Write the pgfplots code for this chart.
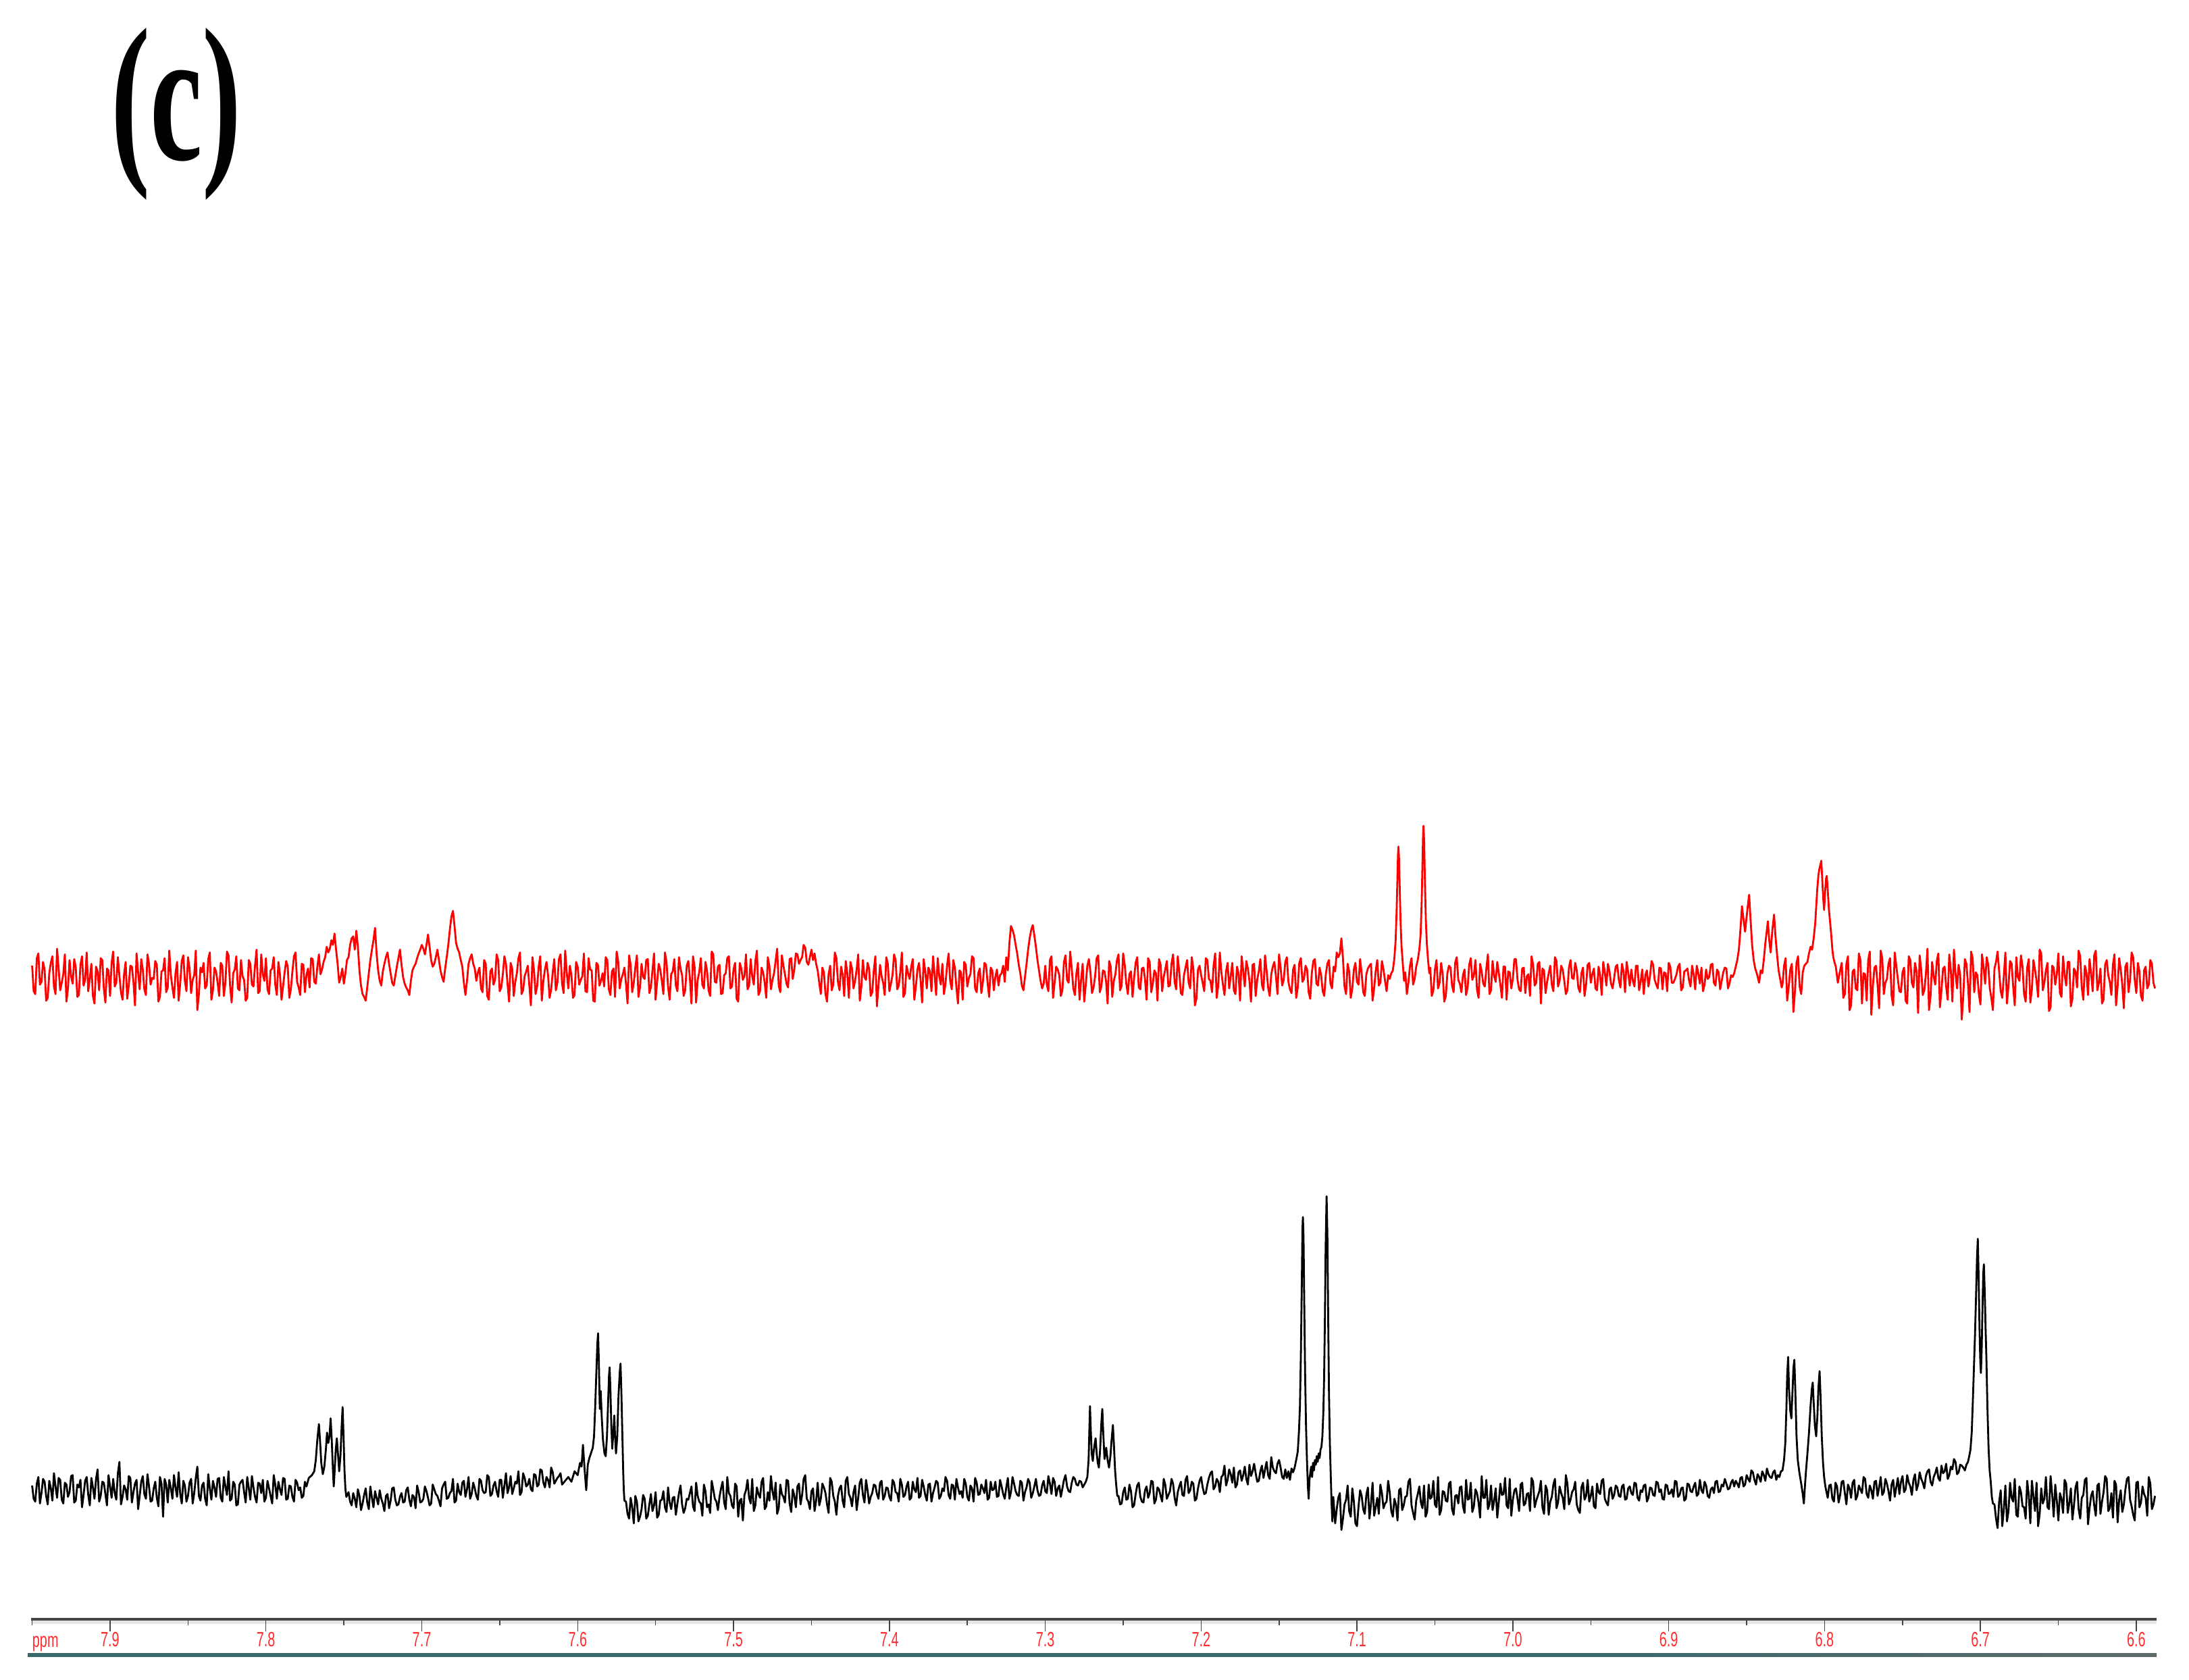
\documentclass[border=0pt]{standalone}
\usepackage{graphicx}
\usepackage{pgfplots}
\pgfplotsset{compat=1.18}
\usepackage{fontspec}
\newfontfamily\labelfont{Liberation Serif}
\newfontfamily\rulerfont{Liberation Sans}
\definecolor{tickred}{RGB}{255,45,45}
\definecolor{rulergray}{RGB}{68,68,68}
\definecolor{bandgray}{RGB}{230,230,230}
\definecolor{tealA}{RGB}{56,104,108}
\definecolor{tealB}{RGB}{96,108,108}
\begin{document}
\begin{tikzpicture}
\useasboundingbox (0,0) rectangle (324.1pt,248.8pt);
% ---------------- red spectrum ----------------
\begin{axis}[at={(4.6pt,90.1pt)}, anchor=south west, scale only axis,
  width=314.7pt, height=49pt, xmin=6.587, xmax=7.9507, x dir=reverse,
  ymin=-100, ymax=250, axis lines=none, clip=false]
\addplot[red, line width=0.28pt, line join=round] coordinates {
(7.950,12)(7.949,-15)(7.948,-18)(7.947,20)(7.946,25)(7.945,-8)(7.944,-5)(7.943,16)(7.942,8)(7.941,-25)(7.940,-22)(7.939,4)(7.938,15)(7.937,22)(7.936,-10)(7.935,-18)(7.934,30)(7.933,9)(7.932,-14)(7.931,-6)(7.930,3)(7.929,24)(7.928,-26)(7.927,-12)(7.926,18)(7.925,1)(7.924,-7)(7.923,19)(7.922,10)(7.921,-21)(7.920,-19)(7.919,13)(7.918,22)(7.917,-9)(7.916,-3)(7.915,26)(7.914,-15)(7.913,-2)(7.912,14)(7.911,-20)
(7.910,-28)(7.909,11)(7.908,6)(7.907,-14)(7.906,20)(7.905,18)(7.904,-12)(7.903,-27)(7.902,9)(7.901,7)(7.900,-20)(7.899,15)(7.898,27)(7.897,-10)(7.896,-6)(7.895,21)(7.894,1)(7.893,-16)(7.892,-24)(7.891,3)(7.890,16)(7.889,-23)(7.888,-9)(7.887,12)(7.886,11)(7.885,-5)(7.884,-30)(7.883,25)(7.882,5)(7.881,-13)(7.880,19)(7.879,8)(7.878,-13)(7.877,-19)(7.876,24)(7.875,14)(7.874,-8)(7.873,-1)(7.872,-2)(7.871,17)
(7.870,13)(7.869,-26)(7.868,-21)(7.867,6)(7.866,7)(7.865,20)(7.864,-16)(7.863,-11)(7.862,28)(7.861,2)(7.860,-11)(7.859,-22)(7.858,4)(7.857,16)(7.856,-25)(7.855,-7)(7.854,17)(7.853,23)(7.852,-4)(7.851,-15)(7.850,21)(7.849,9)(7.848,-17)(7.847,-3)(7.846,2)(7.845,28)(7.844,-35)(7.843,-18)(7.842,10)(7.841,5)(7.840,15)(7.839,-12)(7.838,-9)(7.837,19)(7.836,26)(7.835,-24)(7.834,-14)(7.833,10)(7.832,6)(7.831,-6)
(7.830,-20)(7.829,15)(7.828,12)(7.827,-20)(7.826,-6)(7.825,27)(7.824,23)(7.823,-9)(7.822,-27)(7.821,4)(7.820,8)(7.819,22)(7.818,-12)(7.817,-14)(7.816,18)(7.815,1)(7.814,-3)(7.813,-25)(7.812,-22)(7.811,18)(7.810,14)(7.809,-8)(7.808,-10)(7.807,12)(7.806,29)(7.805,-17)(7.804,-15)(7.803,24)(7.802,3)(7.801,-4)(7.800,20)(7.799,-13)(7.798,-18)(7.797,7)(7.796,9)(7.795,21)(7.794,-8)(7.793,-19)(7.792,16)(7.791,3)
(7.790,-24)(7.789,-10)(7.788,5)(7.787,17)(7.786,11)(7.785,-22)(7.784,-13)(7.783,6)(7.782,22)(7.781,26)(7.780,-5)(7.779,-11)(7.778,-19)(7.777,14)(7.776,13)(7.775,-16)(7.774,2)(7.773,9)(7.772,-11)(7.771,20)(7.770,19)(7.769,-5)(7.768,-7)(7.767,11)(7.766,24)(7.765,3)(7.764,8)(7.763,16)(7.762,21)(7.761,32)
(7.760,26)(7.759,30)(7.758,39)(7.757,34)(7.756,46)(7.755,29)(7.754,14)(7.753,-6)(7.752,0)(7.751,9)(7.750,-7)(7.749,4)(7.748,18)(7.747,21)(7.746,34)(7.745,41)(7.744,43)(7.743,29)(7.742,49)(7.741,32)(7.740,7)(7.739,-9)(7.738,-18)(7.737,-21)(7.736,-25)(7.735,-11)(7.734,4)(7.733,18)(7.732,29)(7.731,39)
(7.730,52)(7.729,25)(7.728,7)(7.727,-4)(7.726,-9)(7.725,6)(7.724,14)(7.723,21)(7.722,26)(7.721,14)(7.720,4)(7.719,-6)(7.718,-9)(7.717,1)(7.716,11)(7.715,20)(7.714,29)(7.713,13)(7.712,0)(7.711,-7)(7.710,-11)(7.709,-14)(7.708,-19)(7.707,-4)(7.706,7)(7.705,11)(7.704,14)(7.703,20)(7.702,25)(7.701,29)
(7.700,34)(7.699,30)(7.698,24)(7.697,34)(7.696,45)(7.695,32)(7.694,18)(7.693,11)(7.692,14)(7.691,21)(7.690,29)(7.689,18)(7.688,7)(7.687,0)(7.686,-5)(7.685,9)(7.684,21)(7.683,34)(7.682,50)(7.681,64)(7.680,70)(7.679,54)(7.678,36)(7.677,30)(7.676,26)(7.675,18)(7.674,11)(7.673,-6)(7.672,-19)(7.671,-4)
(7.670,14)(7.669,20)(7.668,24)(7.667,14)(7.666,9)(7.665,-4)(7.664,5)
(7.663,10)(7.662,-12)(7.661,-16)(7.660,18)(7.659,14)(7.658,-20)(7.657,-24)(7.656,6)(7.655,9)(7.654,-8)(7.653,-3)(7.652,24)(7.651,18)(7.650,-15)(7.649,-11)(7.648,3)(7.647,22)(7.646,14)(7.645,-7)(7.644,-26)(7.643,15)(7.642,9)(7.641,-20)(7.640,-5)(7.639,4)(7.638,20)(7.637,26)(7.636,-18)(7.635,-14)(7.634,1)(7.633,6)(7.632,12)(7.631,-9)(7.630,-30)(7.629,21)(7.628,7)(7.627,-18)(7.626,-10)(7.625,11)(7.624,22)
(7.623,-25)(7.622,-4)(7.621,8)(7.620,16)(7.619,2)(7.618,-22)(7.617,-13)(7.616,5)(7.615,19)(7.614,-14)(7.613,-6)(7.612,19)(7.611,24)(7.610,-7)(7.609,-17)(7.608,28)(7.607,5)(7.606,-12)(7.605,12)(7.604,2)(7.603,-22)(7.602,-19)(7.601,16)(7.600,11)(7.599,-8)(7.598,-3)(7.597,1)(7.596,25)(7.595,-15)(7.594,-16)(7.593,20)(7.592,8)(7.591,7)(7.590,-25)(7.589,-26)(7.588,15)(7.587,13)(7.586,-9)(7.585,-4)(7.584,4)
(7.583,-10)(7.582,21)(7.581,18)(7.580,-13)(7.579,-19)(7.578,6)(7.577,9)(7.576,-21)(7.575,27)(7.574,17)(7.573,-12)(7.572,-2)(7.571,3)(7.570,10)(7.569,-7)(7.568,-28)(7.567,23)(7.566,13)(7.565,-16)(7.564,-6)(7.563,10)(7.562,23)(7.561,-21)(7.560,-11)(7.559,14)(7.558,0)(7.557,-2)(7.556,18)(7.555,19)(7.554,-17)(7.553,-11)(7.552,7)(7.551,25)(7.550,-24)(7.549,-5)(7.548,14)(7.547,8)(7.546,-4)(7.545,-18)(7.544,26)
(7.543,16)(7.542,-10)(7.541,-24)(7.540,3)(7.539,6)(7.538,19)(7.537,-9)(7.536,-15)(7.535,21)(7.534,9)(7.533,2)(7.532,-20)(7.531,-14)(7.530,12)(7.529,17)(7.528,-1)(7.527,-28)(7.526,22)(7.525,11)(7.524,-27)(7.523,-3)(7.522,5)(7.521,20)(7.520,-8)(7.519,-12)(7.518,16)(7.517,7)(7.516,-14)(7.515,-20)(7.514,27)(7.513,24)(7.512,-5)(7.511,-6)(7.510,11)(7.509,13)(7.508,-18)(7.507,-17)(7.506,2)(7.505,4)(7.504,20)
(7.503,22)(7.502,-12)(7.501,-10)(7.500,8)(7.499,15)(7.498,-23)(7.497,-26)(7.496,15)(7.495,9)(7.494,-3)(7.493,1)(7.492,24)(7.491,-13)(7.490,-9)(7.489,19)(7.488,1)(7.487,-8)(7.486,17)(7.485,28)(7.484,-19)(7.483,-15)(7.482,10)(7.481,5)(7.480,-6)(7.479,-22)(7.478,21)(7.477,12)(7.476,-13)(7.475,-3)(7.474,4)(7.473,17)(7.472,30)(7.471,-9)(7.470,-16)(7.469,23)(7.468,12)(7.467,3)(7.466,-7)(7.465,-11)(7.464,19)
(7.463,20)(7.462,-2)(7.461,8)(7.460,25)(7.459,24)(7.458,14)(7.457,18)(7.456,21)(7.455,34)(7.454,31)(7.453,16)(7.452,13)(7.451,21)(7.450,29)(7.449,18)(7.448,25)(7.447,14)(7.446,7)(7.445,-6)
(7.444,-18)(7.443,10)(7.442,5)(7.441,-18)(7.440,-26)(7.439,3)(7.438,12)(7.437,-14)(7.436,-8)(7.435,26)(7.434,20)(7.433,-5)(7.432,-14)(7.431,11)(7.430,3)(7.429,-20)(7.428,17)(7.427,4)(7.426,-22)(7.425,16)(7.424,9)(7.423,-12)(7.422,-4)(7.421,8)(7.420,24)(7.419,-25)(7.418,-11)(7.417,18)(7.416,0)(7.415,-3)(7.414,15)(7.413,9)(7.412,-20)(7.411,-16)(7.410,7)(7.409,22)(7.408,-31)(7.407,-9)(7.406,13)(7.405,1)
(7.404,-6)(7.403,-19)(7.402,21)(7.401,14)(7.400,-15)(7.399,-7)(7.398,2)(7.397,24)(7.396,18)(7.395,-13)(7.394,-9)(7.393,5)(7.392,26)(7.391,-21)(7.390,-17)(7.389,12)(7.388,4)(7.387,-2)(7.386,11)(7.385,19)(7.384,-24)(7.383,-10)(7.382,8)(7.381,15)(7.380,-3)(7.379,-27)(7.378,19)(7.377,6)(7.376,-12)(7.375,10)(7.374,6)(7.373,-15)(7.372,22)(7.371,3)(7.370,-19)(7.369,20)(7.368,1)(7.367,-8)(7.366,14)(7.365,-18)
(7.364,-7)(7.363,12)(7.362,25)(7.361,-4)(7.360,-13)(7.359,18)(7.358,10)(7.357,-11)(7.356,-28)(7.355,7)(7.354,5)(7.353,-24)(7.352,16)(7.351,13)(7.350,-10)(7.349,-1)(7.348,3)(7.347,22)(7.346,20)(7.345,-12)(7.344,-16)(7.343,4)(7.342,9)(7.341,-17)(7.340,-5)(7.339,15)(7.338,13)(7.337,-6)(7.336,-21)(7.335,10)(7.334,7)(7.333,-14)(7.332,0)(7.331,8)(7.330,-9)(7.329,2)(7.328,4)(7.327,12)
(7.326,-5)(7.325,21)(7.324,7)(7.323,36)(7.322,54)(7.321,50)(7.320,44)(7.319,34)(7.318,25)(7.317,13)(7.316,4)(7.315,-9)(7.314,-14)(7.313,0)(7.312,14)(7.311,29)(7.310,41)(7.309,50)(7.308,55)(7.307,44)(7.306,32)(7.305,18)(7.304,7)(7.303,-4)(7.302,-12)(7.301,-7)
(7.300,12)(7.299,-8)(7.298,-15)(7.297,18)(7.296,22)(7.295,-22)(7.294,-6)(7.293,11)(7.292,8)(7.291,2)(7.290,-20)(7.289,-14)(7.288,16)(7.287,23)(7.286,-3)(7.285,-6)(7.284,27)(7.283,9)(7.282,-12)(7.281,-19)(7.280,4)(7.279,15)(7.278,-24)(7.277,-3)(7.276,14)(7.275,-26)(7.274,-8)(7.273,12)(7.272,19)(7.271,5)(7.270,-17)(7.269,-11)(7.268,1)(7.267,20)(7.266,23)(7.265,-16)(7.264,-10)(7.263,7)(7.262,6)(7.261,-4)
(7.260,-28)(7.259,17)(7.258,11)(7.257,-21)(7.256,-4)(7.255,3)(7.254,18)(7.253,24)(7.252,-14)(7.251,-9)(7.250,25)(7.249,13)(7.248,-7)(7.247,-18)(7.246,3)(7.245,6)(7.244,-21)(7.243,-1)(7.242,15)(7.241,21)(7.240,-11)(7.239,-13)(7.238,9)(7.237,10)(7.236,-2)(7.235,-24)(7.234,20)(7.233,16)(7.232,-16)(7.231,-7)(7.230,7)(7.229,4)(7.228,-25)(7.227,19)(7.226,13)(7.225,-15)(7.224,0)(7.223,8)(7.222,17)(7.221,-10)
(7.220,-9)(7.219,14)(7.218,24)(7.217,-5)(7.216,-13)(7.215,22)(7.214,5)(7.213,-17)(7.212,-19)(7.211,2)(7.210,10)(7.209,18)(7.208,-6)(7.207,-12)(7.206,21)(7.205,9)(7.204,-30)(7.203,-23)(7.202,8)(7.201,12)(7.200,2)(7.199,-6)(7.198,-15)(7.197,20)(7.196,18)(7.195,-2)(7.194,-4)(7.193,-16)(7.192,12)(7.191,25)(7.190,-22)(7.189,-9)(7.188,26)(7.187,5)(7.186,-8)(7.185,-19)(7.184,6)(7.183,15)(7.182,-12)(7.181,1)
(7.180,15)(7.179,-14)(7.178,-18)(7.177,11)(7.176,4)(7.175,-25)(7.174,22)(7.173,7)(7.172,-10)(7.171,17)(7.170,9)(7.169,-4)(7.168,-26)(7.167,13)(7.166,14)(7.165,-20)(7.164,-3)(7.163,6)(7.162,19)(7.161,-8)(7.160,-14)(7.159,23)(7.158,7)(7.157,-11)(7.156,-20)(7.155,3)(7.154,11)(7.153,16)(7.152,1)(7.151,-18)(7.150,24)(7.149,10)(7.148,-9)(7.147,-3)(7.146,16)(7.145,21)(7.144,-5)(7.143,-13)(7.142,-17)(7.141,8)
(7.140,13)(7.139,-22)(7.138,-11)(7.137,15)(7.136,20)(7.135,-5)(7.134,-2)(7.133,12)(7.132,8)(7.131,-16)(7.130,-23)(7.129,4)(7.128,17)(7.127,19)(7.126,-7)(7.125,-9)(7.124,10)(7.123,2)(7.122,-15)(7.121,-20)(7.120,3)(7.119,14)(7.118,18)(7.117,-7)(7.116,-12)(7.115,11)(7.114,6)(7.113,26)(7.112,21)(7.111,25)(7.110,41)
(7.109,20)(7.108,-10)(7.107,-18)(7.106,14)(7.105,6)(7.104,-22)(7.103,-12)(7.102,8)(7.101,15)(7.100,-5)(7.099,-8)(7.098,19)(7.097,4)(7.096,-16)(7.095,-20)(7.094,3)(7.093,9)(7.092,12)(7.091,14)(7.090,-25)(7.089,-12)(7.088,6)(7.087,18)(7.086,-9)(7.085,-6)(7.084,17)(7.083,8)(7.082,-4)(7.081,-15)(7.080,2)(7.079,-2)(7.078,4)
(7.0770,7)(7.0760,20)(7.0752,39)(7.0746,68)(7.0741,101)(7.0737,129)(7.0734,138)(7.0730,125)(7.0725,89)(7.0720,57)(7.0714,32)(7.0706,14)(7.0698,-4)
(7.069,5)(7.068,-18)(7.067,-6)(7.066,12)(7.065,20)(7.064,-8)(7.063,-2)
(7.0620,11)(7.0610,18)(7.0600,29)(7.0592,44)(7.0585,79)(7.0580,118)(7.0576,150)(7.0573,160)(7.0569,143)(7.0564,100)(7.0558,59)(7.0552,36)(7.0544,18)(7.0536,4)
(7.053,10)(7.052,-20)(7.051,-14)(7.050,8)(7.049,18)(7.048,-12)(7.047,-6)(7.046,15)(7.045,3)(7.044,-26)(7.043,-20)(7.042,4)(7.041,12)(7.040,10)(7.039,-9)(7.038,-16)(7.037,15)(7.036,21)(7.035,-3)(7.034,-7)(7.033,-16)(7.032,2)(7.031,8)(7.030,-19)(7.029,-11)(7.028,13)(7.027,20)(7.026,-3)(7.025,2)(7.024,18)(7.023,-13)(7.022,-22)(7.021,14)(7.020,6)(7.019,-7)(7.018,-10)(7.017,9)(7.016,24)(7.015,-18)(7.014,-14)
(7.013,17)(7.012,1)(7.011,-5)(7.010,16)(7.009,4)(7.008,-8)(7.007,-22)(7.006,11)(7.005,11)(7.004,-24)(7.003,6)(7.002,5)(7.001,-12)(7.000,-2)(6.999,19)(6.998,19)(6.997,-3)(6.996,-13)(6.995,-15)(6.994,9)(6.993,10)(6.992,-17)(6.991,1)(6.990,3)(6.989,-20)(6.988,22)(6.987,13)(6.986,-9)(6.985,-6)(6.984,14)(6.983,16)(6.982,-28)(6.981,9)(6.980,7)(6.979,-17)(6.978,-5)(6.977,4)(6.976,12)(6.975,-8)(6.974,-15)
(6.973,21)(6.972,17)(6.971,-10)(6.970,-4)(6.969,12)(6.968,8)(6.967,-4)(6.966,-18)(6.965,-14)(6.964,10)(6.963,18)(6.962,-1)(6.961,-2)(6.960,15)(6.959,7)(6.958,-11)(6.957,-16)(6.956,4)(6.955,10)(6.954,-20)(6.953,-8)(6.952,13)(6.951,15)(6.950,-6)(6.949,3)(6.948,9)(6.947,-12)(6.946,-14)(6.945,11)(6.944,2)(6.943,-19)(6.942,16)(6.941,5)(6.940,-9)(6.939,14)(6.938,6)(6.937,-7)(6.936,-12)(6.935,-1)(6.934,11)
(6.933,13)(6.932,-3)(6.931,-11)(6.930,14)(6.929,6)(6.928,-16)(6.927,16)(6.926,5)(6.925,-9)(6.924,8)(6.923,-4)(6.922,-10)(6.921,12)(6.920,12)(6.919,-14)(6.918,-5)(6.917,8)(6.916,-18)(6.915,2)(6.914,7)(6.913,-10)(6.912,1)(6.911,17)(6.910,13)(6.909,-3)(6.908,-8)(6.907,-12)(6.906,10)(6.905,9)(6.904,-13)(6.903,5)(6.902,4)(6.901,-15)(6.900,15)(6.899,11)(6.898,-6)(6.897,-6)(6.896,-2)(6.895,3)(6.894,11)
(6.893,14)(6.892,-14)(6.891,-11)(6.890,6)(6.889,7)(6.888,9)(6.887,-3)(6.886,-10)(6.885,12)(6.884,3)(6.883,-13)(6.882,12)(6.881,4)(6.880,-7)(6.879,10)(6.878,-15)(6.877,-8)(6.876,8)(6.875,-2)(6.874,0)(6.873,13)(6.872,14)(6.871,-6)(6.870,-9)(6.869,8)(6.868,5)(6.867,-13)(6.866,-4)(6.865,5)(6.864,10)(6.863,9)(6.862,-12)(6.861,-7)(6.860,2)(6.859,0)
(6.8580,4)(6.8570,11)(6.8560,18)(6.8550,29)(6.8540,50)(6.8530,75)(6.8520,61)(6.8510,48)(6.8500,64)(6.8490,79)(6.8484,87)(6.8475,61)(6.8465,34)(6.8455,18)(6.8445,9)(6.8435,4)(6.8420,-6)(6.8410,7)(6.8400,4)
(6.8390,18)(6.8380,36)(6.8370,50)(6.8364,59)(6.8355,39)(6.8346,26)(6.8335,50)(6.8324,66)(6.8315,43)(6.8305,24)(6.8295,7)(6.8285,-2)(6.8275,-11)
(6.827,-8)(6.826,12)(6.825,20)(6.824,-25)(6.823,-10)(6.822,8)(6.821,14)(6.820,-37)(6.819,-15)(6.818,15)(6.817,22)(6.816,-10)(6.815,-18)(6.814,5)(6.813,12)
(6.8120,14)(6.8110,16)(6.8100,25)(6.8090,32)(6.8080,29)(6.8070,41)(6.8060,57)(6.8052,79)(6.8047,93)(6.8040,107)(6.8034,114)(6.8028,118)(6.8021,123)(6.8014,100)(6.8008,82)(6.8003,71)
(6.7997,89)(6.7991,104)(6.7986,107)(6.7980,93)(6.7972,71)(6.7964,57)(6.7957,44)(6.7950,29)(6.7944,21)(6.7937,16)(6.7928,11)(6.7915,-6)(6.7900,7)
(6.789,15)(6.788,-22)(6.787,-18)(6.786,14)(6.785,22)(6.784,-35)(6.783,-30)(6.782,6)(6.781,8)(6.780,-12)(6.779,-14)(6.778,25)(6.777,18)(6.776,-28)(6.775,4)(6.774,3)(6.773,-25)(6.772,18)(6.771,27)(6.770,-40)(6.769,-9)(6.768,10)(6.767,12)(6.766,-8)(6.765,-33)(6.764,28)(6.763,20)(6.762,-18)(6.761,-6)(6.760,-2)(6.759,14)(6.758,20)(6.757,-20)(6.756,-30)(6.755,26)(6.754,12)(6.753,-2)(6.752,-15)(6.751,-16)(6.750,5)
(6.749,10)(6.748,-25)(6.747,-28)(6.746,22)(6.745,18)(6.744,-6)(6.743,-11)(6.742,15)(6.741,6)(6.740,-38)(6.739,23)(6.738,8)(6.737,-19)(6.736,-14)(6.735,3)(6.734,30)(6.733,-35)(6.732,-20)(6.731,16)(6.730,1)(6.729,-8)(6.728,17)(6.727,25)(6.726,-32)(6.725,-14)(6.724,9)(6.723,11)(6.722,-10)(6.721,-24)(6.720,24)(6.719,7)(6.718,-26)(6.717,29)(6.716,4)(6.715,-12)(6.714,13)(6.713,2)(6.712,-45)(6.711,-20)(6.710,19)
(6.709,14)(6.708,-7)(6.707,-37)(6.706,27)(6.705,20)(6.704,-16)(6.703,5)(6.702,2)(6.701,-18)(6.700,-29)(6.699,24)(6.698,11)(6.697,-7)(6.696,21)(6.695,13)(6.694,-12)(6.693,-22)(6.692,-35)(6.691,9)(6.690,16)(6.689,27)(6.688,6)(6.687,-15)(6.686,-22)(6.685,1)(6.684,26)(6.683,-28)(6.682,-9)(6.681,17)(6.680,14)(6.679,-10)(6.678,-30)(6.677,21)(6.676,0)(6.675,-4)(6.674,23)(6.673,11)(6.672,-18)(6.671,-26)(6.670,10)
(6.669,19)(6.668,-27)(6.667,-13)(6.666,18)(6.665,8)(6.664,-4)(6.663,-21)(6.662,29)(6.661,25)(6.660,-14)(6.659,-6)(6.658,7)(6.657,15)(6.656,-36)(6.655,-32)(6.654,12)(6.653,10)(6.652,-8)(6.651,3)(6.650,25)(6.649,-17)(6.648,-21)(6.647,22)(6.646,3)(6.645,-9)(6.644,16)(6.643,16)(6.642,-31)(6.641,-23)(6.640,9)(6.639,6)(6.638,-11)(6.637,28)(6.636,22)(6.635,-11)(6.634,-24)(6.633,12)(6.632,5)(6.631,-19)(6.630,19)
(6.629,4)(6.628,-15)(6.627,23)(6.626,28)(6.625,-14)(6.624,-6)(6.623,9)(6.622,-28)(6.621,-24)(6.620,13)(6.619,18)(6.618,2)(6.617,-5)(6.616,-19)(6.615,13)(6.614,24)(6.613,-30)(6.612,-10)(6.611,20)(6.610,8)(6.609,-8)(6.608,-33)(6.607,11)(6.606,15)(6.605,-16)(6.604,-3)(6.603,26)(6.602,21)(6.601,-3)(6.600,-17)(6.599,15)(6.598,6)(6.597,-20)(6.596,-25)(6.595,7)(6.594,11)(6.593,-12)(6.592,-8)(6.591,18)(6.590,14)(6.589,-6)(6.588,-12)
};
\end{axis}
% ---------------- black spectrum + ppm ruler ----------------
\begin{axis}[at={(4.6pt,9pt)}, anchor=south west, scale only axis,
  width=314.7pt, height=70pt, xmin=6.587, xmax=7.9507, x dir=reverse,
  ymin=-136.43, ymax=363.57, clip=false, axis on top,
  axis x line=bottom, axis y line=none,
  x axis line style={-, draw=rulergray, line width=0.45pt},
  xtick={6.6,6.7,6.8,6.9,7.0,7.1,7.2,7.3,7.4,7.5,7.6,7.7,7.8,7.9},
  minor xtick={6.65,6.75,6.85,6.95,7.05,7.15,7.25,7.35,7.45,7.55,7.65,7.75,7.85,7.95},
  tick align=outside, major tick length=1.8pt, minor tick length=0.9pt,
  tick style={draw=rulergray, line width=0.15pt},
  xticklabel={\scalebox{0.65}[1]{\pgfmathprintnumber[fixed,fixed zerofill,precision=1,assume math mode=true]{\tick}}},
  xticklabel style={font=\rulerfont\fontsize{3.05}{3.6}\selectfont, text=tickred, anchor=base, inner sep=0pt, yshift=-2.3pt},
  ytick=\empty]
\fill[bandgray] ([yshift=-0.22pt]rel axis cs:0,0) rectangle ([yshift=-0.72pt]rel axis cs:1,0);
\addplot[black, line width=0.28pt, line join=round] coordinates {
(7.950,5)(7.949,-9)(7.948,-12)(7.947,7)(7.946,14)(7.945,-14)(7.944,-3)(7.943,12)(7.942,9)(7.941,-6)(7.940,-15)(7.939,10)(7.938,2)(7.937,-11)(7.936,18)(7.935,4)(7.934,-8)(7.933,13)(7.932,11)(7.931,-10)(7.930,-14)(7.929,8)(7.928,6)(7.927,-7)(7.926,-2)(7.925,15)(7.924,16)(7.923,-13)(7.922,-11)(7.921,6)(7.920,3)(7.919,11)(7.918,-18)(7.917,-5)(7.916,10)(7.915,14)(7.914,-5)(7.913,-16)(7.912,13)(7.911,3)
(7.910,-9)(7.909,12)(7.908,22)(7.907,-12)(7.906,-6)(7.905,9)(7.904,8)(7.903,-4)(7.902,-16)(7.901,16)(7.900,4)(7.899,-8)(7.898,12)(7.897,-3)(7.896,-10)(7.895,18)(7.894,30)(7.893,-15)(7.892,-7)(7.891,5)(7.890,1)(7.889,-10)(7.888,15)(7.887,13)(7.886,-13)(7.885,-2)(7.884,7)(7.883,11)(7.882,-20)(7.881,-6)(7.880,9)(7.879,15)(7.878,-4)(7.877,-9)(7.876,17)(7.875,4)(7.874,-12)(7.873,-11)(7.872,2)(7.871,9)
(7.870,-8)(7.869,-17)(7.868,14)(7.867,7)(7.866,-28)(7.865,12)(7.864,6)(7.863,-13)(7.862,11)(7.861,2)(7.860,-9)(7.859,16)(7.858,3)(7.857,-7)(7.856,19)(7.855,-4)(7.854,-14)(7.853,10)(7.852,5)(7.851,-12)(7.850,-6)(7.849,8)(7.848,12)(7.847,-14)(7.846,-3)(7.845,13)(7.844,25)(7.843,-6)(7.842,-11)(7.841,5)(7.840,8)(7.839,-9)(7.838,-16)(7.837,17)(7.836,2)(7.835,-10)(7.834,10)(7.833,3)(7.832,-7)(7.831,12)
(7.830,13)(7.829,-8)(7.828,-12)(7.827,14)(7.826,4)(7.825,-5)(7.824,20)(7.823,-11)(7.822,-9)(7.821,9)(7.820,6)(7.819,-16)(7.818,-15)(7.817,6)(7.816,9)(7.815,11)(7.814,-2)(7.813,-13)(7.812,14)(7.811,2)(7.810,-10)(7.809,15)(7.808,3)(7.807,-7)(7.806,-13)(7.805,8)(7.804,7)(7.803,-3)(7.802,11)(7.801,-12)(7.800,-8)(7.799,10)(7.798,2)(7.797,-6)(7.796,-14)(7.795,16)(7.794,6)(7.793,-9)(7.792,9)(7.791,1)
(7.790,-5)(7.789,13)(7.788,12)(7.787,-10)(7.786,-9)(7.785,5)(7.784,4)(7.783,-7)(7.782,-12)(7.781,11)(7.780,8)(7.779,0)(7.778,3)(7.777,-8)(7.776,-6)(7.775,9)
(7.7740,4)(7.7725,13)(7.7705,16)(7.7690,20)(7.7680,32)(7.7670,54)(7.7660,70)(7.7652,50)(7.7645,29)(7.7635,17)(7.7625,25)(7.7615,44)(7.7608,61)(7.7600,50)(7.7592,57)(7.7585,76)(7.7578,54)(7.7570,21)
(7.7565,4)(7.7560,18)(7.7552,43)(7.7545,55)(7.7538,39)(7.7530,20)(7.7522,36)(7.7514,68)(7.7508,88)(7.7502,57)(7.7496,21)(7.7490,1)(7.7484,-7)
(7.747,-2)(7.746,-12)(7.745,-16)(7.744,-3)(7.743,-9)(7.742,-18)(7.741,1)(7.740,-6)(7.739,-21)(7.738,-14)(7.737,-5)(7.736,2)(7.735,-13)(7.734,-20)(7.733,4)(7.732,-8)(7.731,-18)(7.730,-1)(7.729,-8)(7.728,-15)(7.727,0)(7.726,-9)(7.725,-14)(7.724,-22)(7.723,-6)(7.722,-4)(7.721,-19)(7.720,-11)(7.719,2)(7.718,3)(7.717,-10)(7.716,-16)(7.715,-15)(7.714,-7)(7.713,-3)(7.712,-13)(7.711,-12)(7.710,0)(7.709,3)(7.708,-10)
(7.707,-17)(7.706,-5)(7.705,-7)(7.704,-19)(7.703,5)(7.702,-2)(7.701,-13)(7.700,-12)(7.699,-9)(7.698,4)(7.697,-1)(7.696,-8)(7.695,-16)(7.694,-14)(7.693,6)(7.692,1)(7.691,-4)(7.690,-6)(7.689,-11)(7.688,-17)(7.687,2)(7.686,6)(7.685,9)(7.684,-9)(7.683,-8)(7.682,-3)(7.681,-1)(7.680,12)(7.679,-13)(7.678,-11)(7.677,7)(7.676,-2)(7.675,-5)(7.674,8)(7.673,10)(7.672,-7)(7.671,1)(7.670,14)(7.669,-9)(7.668,-4)
(7.667,8)(7.666,2)(7.665,-6)(7.664,-10)(7.663,12)(7.662,10)(7.661,0)(7.660,-3)(7.659,-2)(7.658,16)(7.657,14)(7.656,-6)(7.655,-4)(7.654,5)(7.653,9)(7.652,-1)(7.651,-7)(7.650,11)(7.649,11)(7.648,-8)(7.647,5)(7.646,18)(7.645,-3)(7.644,3)(7.643,15)(7.642,-4)(7.641,2)(7.640,9)(7.639,7)(7.638,20)(7.637,-5)(7.636,-2)(7.635,18)(7.634,13)(7.633,4)(7.632,6)(7.631,12)(7.630,1)(7.629,-1)(7.628,17)
(7.627,16)(7.626,4)(7.625,6)(7.624,22)(7.623,21)(7.622,8)(7.621,3)(7.620,14)(7.619,11)(7.618,3)(7.617,24)(7.616,19)(7.615,7)(7.614,10)(7.613,13)(7.612,15)(7.611,18)
(7.6100,6)(7.6080,10)(7.6060,14)(7.6040,9)(7.6020,20)(7.6000,16)(7.5985,29)(7.5975,25)(7.5966,48)(7.5955,21)(7.5945,0)(7.5935,27)(7.5925,34)(7.5915,39)(7.5903,45)(7.5895,57)(7.5888,86)(7.5880,125)
(7.5874,154)(7.5869,166)(7.5864,136)(7.5858,86)(7.5852,105)(7.5846,79)(7.5838,54)(7.5828,39)(7.5820,36)(7.5812,57)(7.5804,96)(7.5799,121)(7.5795,130)(7.5790,107)(7.5784,68)(7.5778,44)(7.5770,64)
(7.5765,79)(7.5760,57)(7.5754,39)(7.5746,57)(7.5738,100)(7.5730,125)(7.5725,134)(7.5720,107)(7.5714,64)(7.5708,21)(7.5704,0)(7.5700,-11)
(7.569,-12)(7.568,-25)(7.567,-30)(7.566,-8)(7.565,-18)(7.564,-35)(7.563,-6)(7.562,-12)(7.561,-33)(7.560,-28)(7.559,-20)(7.558,-5)(7.557,-9)(7.556,-30)(7.555,-27)(7.554,-15)(7.553,-4)(7.552,-22)(7.551,-16)(7.550,-2)(7.549,-29)(7.548,-26)(7.547,-11)(7.546,-10)(7.545,-1)(7.544,-18)(7.543,-23)(7.542,3)(7.541,-13)(7.540,-20)(7.539,-8)(7.538,-7)(7.537,-26)(7.536,-14)(7.535,-3)(7.534,5)(7.533,-15)(7.532,-24)(7.531,-19)(7.530,-9)
(7.529,-10)(7.528,-3)(7.527,4)(7.526,-17)(7.525,-22)(7.524,8)(7.523,-6)(7.522,-12)(7.521,-14)(7.520,-27)(7.519,6)(7.518,-1)(7.517,-18)(7.516,-15)(7.515,-24)(7.514,10)(7.513,1)(7.512,-9)(7.511,-12)(7.510,-21)(7.509,-7)(7.508,2)(7.507,9)(7.506,-13)(7.505,-20)(7.504,14)(7.503,-3)(7.502,-6)(7.501,-16)(7.500,-19)(7.499,7)(7.498,4)(7.497,-28)(7.496,-11)(7.495,-9)(7.494,-32)(7.493,-5)(7.492,0)(7.491,11)(7.490,-8)
(7.489,-14)(7.488,12)(7.487,-22)(7.486,-16)(7.485,3)(7.484,-4)(7.483,-8)(7.482,9)(7.481,13)(7.480,-20)(7.479,-17)(7.478,-2)(7.477,-11)(7.476,15)(7.475,-1)(7.474,-10)(7.473,8)(7.472,-25)(7.471,-19)(7.470,6)(7.469,-4)(7.468,-7)(7.467,-13)(7.466,11)(7.465,10)(7.464,-14)(7.463,-23)(7.462,1)(7.461,-6)(7.460,-18)(7.459,4)(7.458,7)(7.457,-15)(7.456,-5)(7.455,12)(7.454,16)(7.453,-9)(7.452,-12)(7.451,-20)(7.450,-1)
(7.449,2)(7.448,-22)(7.447,-11)(7.446,8)(7.445,-16)(7.444,-9)(7.443,7)(7.442,3)(7.441,-3)(7.440,-15)(7.439,-24)(7.438,13)(7.437,9)(7.436,-6)(7.435,-12)(7.434,-26)(7.433,-6)(7.432,2)(7.431,5)(7.430,-11)(7.429,-18)(7.428,10)(7.427,14)(7.426,-4)(7.425,-8)(7.424,-17)(7.423,-2)(7.422,5)(7.421,-21)(7.420,-8)(7.419,8)(7.418,12)(7.417,-5)(7.416,-13)(7.415,11)(7.414,0)(7.413,-14)(7.412,-7)(7.411,-3)(7.410,6)
(7.409,5)(7.408,-4)(7.407,-9)(7.406,8)(7.405,10)(7.404,-10)(7.403,-6)(7.402,3)(7.401,2)(7.400,-7)(7.399,-11)(7.398,11)(7.397,8)(7.396,-2)(7.395,-3)(7.394,-12)(7.393,12)(7.392,6)(7.391,-7)(7.390,-5)(7.389,4)(7.388,9)(7.387,-10)(7.386,-8)(7.385,9)(7.384,1)(7.383,-2)(7.382,13)(7.381,-8)(7.380,-6)(7.379,11)(7.378,4)(7.377,-5)(7.376,-11)(7.375,6)(7.374,7)(7.373,-12)(7.372,-3)(7.371,3)(7.370,10)
(7.369,8)(7.368,-9)(7.367,-6)(7.366,2)(7.365,-1)(7.364,14)(7.363,10)(7.362,-5)(7.361,-9)(7.360,6)(7.359,5)(7.358,-10)(7.357,12)(7.356,3)(7.355,-4)(7.354,-1)(7.353,-8)(7.352,12)(7.351,7)(7.350,-7)(7.349,-11)(7.348,5)(7.347,2)(7.346,-12)(7.345,13)(7.344,8)(7.343,-5)(7.342,-4)(7.341,6)(7.340,2)(7.339,-3)(7.338,11)(7.337,-10)(7.336,-8)(7.335,9)(7.334,0)(7.333,1)(7.332,9)(7.331,-7)(7.330,-6)
(7.329,11)(7.328,4)(7.327,-4)(7.326,-9)(7.325,3)(7.324,13)(7.323,-9)(7.322,-2)(7.321,14)(7.320,7)(7.319,-1)(7.318,-5)(7.317,-6)(7.316,10)(7.315,8)(7.314,-11)(7.313,-2)(7.312,3)(7.311,12)(7.310,8)(7.309,-8)(7.308,-3)(7.307,4)(7.306,12)(7.305,0)(7.304,-6)(7.303,-5)(7.302,5)(7.301,10)(7.300,-1)(7.299,-3)(7.298,15)(7.297,7)(7.296,-4)(7.295,13)(7.294,9)(7.293,-6)(7.292,2)(7.291,5)(7.290,-7)
(7.289,2)(7.288,11)(7.287,16)(7.286,4)(7.285,-1)(7.284,-2)(7.283,8)(7.282,14)(7.281,12)(7.280,6)(7.279,5)(7.278,10)(7.277,9)(7.276,3)
(7.2750,6)(7.2740,9)(7.2730,14)(7.2722,32)(7.2717,64)(7.2713,89)(7.2708,64)(7.2702,39)(7.2695,31)(7.2688,43)(7.2682,50)(7.2677,55)(7.2670,39)(7.2663,29)(7.2656,24)(7.2648,43)(7.2640,71)(7.2634,86)
(7.2628,61)(7.2620,33)(7.2614,39)(7.2609,45)(7.2600,32)(7.2591,24)(7.2582,36)(7.2574,54)(7.2566,69)(7.2560,50)(7.2552,21)(7.2545,6)(7.2538,-6)
(7.253,-6)(7.252,-15)(7.251,-14)(7.250,-2)(7.249,3)(7.248,-10)(7.247,-9)(7.246,6)(7.245,-1)(7.244,-18)(7.243,-16)(7.242,-4)(7.241,5)(7.240,8)(7.239,-7)(7.238,-12)(7.237,-13)(7.236,0)(7.235,4)(7.234,-8)(7.233,-3)(7.232,10)(7.231,9)(7.230,-14)(7.229,-10)(7.228,3)(7.227,1)(7.226,-6)(7.225,-12)(7.224,12)(7.223,6)(7.222,-9)(7.221,-5)(7.220,-1)(7.219,12)(7.218,7)(7.217,-8)(7.216,-16)(7.215,-2)(7.214,4)
(7.213,9)(7.212,-5)(7.211,-6)(7.210,11)(7.209,15)(7.208,-3)(7.207,0)(7.206,9)(7.205,7)(7.204,-11)(7.203,-9)(7.202,2)(7.201,10)(7.200,14)(7.199,3)(7.198,-4)(7.197,-3)(7.196,6)(7.195,13)(7.194,18)(7.193,20)(7.192,1)(7.191,4)(7.190,12)(7.189,9)(7.188,-2)(7.187,14)(7.186,16)(7.185,26)(7.184,5)(7.183,11)(7.182,22)(7.181,17)(7.180,8)(7.179,24)(7.178,3)(7.177,6)(7.176,19)(7.175,21)(7.174,10)
(7.173,16)(7.172,25)(7.171,12)(7.170,6)(7.169,27)(7.168,15)(7.167,20)(7.166,28)(7.165,18)(7.164,9)(7.163,10)(7.162,20)(7.161,26)(7.160,13)(7.159,22)(7.158,30)(7.157,16)(7.156,12)(7.155,35)(7.154,24)(7.153,20)(7.152,18)(7.151,28)(7.150,32)(7.149,24)(7.148,14)(7.147,12)(7.146,22)
(7.1450,13)(7.1440,20)(7.1430,11)(7.1420,23)(7.1410,19)(7.1400,24)(7.1390,32)(7.1380,41)(7.1372,63)(7.1366,89)(7.1360,143)(7.1355,207)(7.1350,275)(7.1347,289)(7.1343,268)(7.1338,193)(7.1333,125)
(7.1327,68)(7.1321,32)(7.1315,4)(7.1310,-9)(7.1305,11)(7.1300,18)(7.1294,25)(7.1288,14)(7.1282,29)(7.1276,21)(7.1270,32)(7.1264,27)(7.1258,36)(7.1252,30)(7.1246,39)(7.1240,34)(7.1234,43)(7.1228,46)
(7.1222,57)(7.1216,82)(7.1211,118)(7.1206,179)(7.1201,257)(7.1195,311)(7.1190,271)(7.1185,186)(7.1180,107)(7.1174,50)(7.1168,14)(7.1163,-14)(7.1158,-33)(7.1152,-7)(7.1146,-21)
(7.114,-35)(7.113,-20)(7.112,-8)(7.111,-3)(7.110,-42)(7.109,-30)(7.108,-15)(7.107,-10)(7.106,5)(7.105,-22)(7.104,-28)(7.103,2)(7.102,-12)(7.101,-35)(7.100,-38)(7.099,-17)(7.098,0)(7.097,-6)(7.096,-20)(7.095,-25)(7.094,-5)(7.093,3)(7.092,-30)(7.091,-14)(7.090,8)(7.089,-27)(7.088,-18)(7.087,-8)(7.086,-25)(7.085,6)(7.084,-3)(7.083,-19)(7.082,-14)(7.081,-12)(7.080,10)(7.079,-2)(7.078,-22)(7.077,-28)(7.076,-9)(7.075,-15)
(7.074,-32)(7.073,0)(7.072,2)(7.071,-21)(7.070,-16)(7.069,-7)(7.068,-6)(7.067,9)(7.066,12)(7.065,-16)(7.064,-24)(7.063,-31)(7.062,-11)(7.061,-4)(7.060,4)(7.059,-13)(7.058,-19)(7.057,5)(7.056,-28)(7.055,-23)(7.054,6)(7.053,-9)(7.052,-7)(7.051,10)(7.050,-15)(7.049,-18)(7.048,14)(7.047,-26)(7.046,-21)(7.045,-1)(7.044,-2)(7.043,-11)(7.042,-12)(7.041,7)(7.040,9)(7.039,-20)(7.038,-26)(7.037,-6)(7.036,-5)(7.035,-14)
(7.034,3)(7.033,4)(7.032,-17)(7.031,-24)(7.030,11)(7.029,-10)(7.028,-9)(7.027,8)(7.026,-23)(7.025,-17)(7.024,1)(7.023,-3)(7.022,-13)(7.021,-29)(7.020,15)(7.019,-8)(7.018,-8)(7.017,11)(7.016,-20)(7.015,-15)(7.014,5)(7.013,-21)(7.012,-11)(7.011,2)(7.010,-29)(7.009,-12)(7.008,7)(7.007,-5)(7.006,-4)(7.005,13)(7.004,-16)(7.003,-19)(7.002,12)(7.001,-27)(7.000,-10)(6.999,0)(6.998,2)(6.997,-9)(6.996,-22)(6.995,6)
(6.994,8)(6.993,-16)(6.992,-14)(6.991,-4)(6.990,-3)(6.989,-22)(6.988,13)(6.987,9)(6.986,-18)(6.985,-11)(6.984,-6)(6.983,-1)(6.982,10)(6.981,-18)(6.980,-25)(6.979,5)(6.978,0)(6.977,-26)(6.976,-12)(6.975,-7)(6.974,6)(6.973,12)(6.972,-19)(6.971,-13)(6.970,4)(6.969,-3)(6.968,-8)(6.967,-20)(6.966,16)(6.965,7)(6.964,-15)(6.963,-10)(6.962,-2)(6.961,1)(6.960,9)(6.959,-15)(6.958,-21)(6.957,-24)(6.956,3)(6.955,8)
(6.954,-10)(6.953,-6)(6.952,11)(6.951,-12)(6.950,-6)(6.949,4)(6.948,-17)(6.947,-19)(6.946,7)(6.945,-2)(6.944,-4)(6.943,10)(6.942,12)(6.941,-9)(6.940,-13)(6.939,-16)(6.938,1)(6.937,3)(6.936,-9)(6.935,-5)(6.934,5)
(6.933,3)(6.932,-6)(6.931,-7)(6.930,4)(6.929,6)(6.928,-10)(6.927,-9)(6.926,2)(6.925,4)(6.924,-3)(6.923,-5)(6.922,8)(6.921,7)(6.920,-8)(6.919,-11)(6.918,0)(6.917,-2)(6.916,5)(6.915,6)(6.914,-12)(6.913,-8)(6.912,3)(6.911,2)(6.910,-5)(6.909,-6)(6.908,9)(6.907,8)(6.906,-2)(6.905,1)(6.904,-9)(6.903,-10)(6.902,6)(6.901,5)(6.900,-4)(6.899,-3)(6.898,1)(6.897,-7)(6.896,10)(6.895,9)(6.894,-7)
(6.893,-5)(6.892,2)(6.891,3)(6.890,-11)(6.889,-9)(6.888,7)(6.887,6)(6.886,-1)(6.885,-2)(6.884,4)(6.883,8)(6.882,-6)(6.881,-4)(6.880,11)(6.879,0)(6.878,-3)(6.877,9)(6.876,5)(6.875,-6)(6.874,-8)(6.873,1)(6.872,3)(6.871,-3)(6.870,9)(6.869,10)(6.868,-2)(6.867,-1)(6.866,6)(6.865,4)(6.864,12)(6.863,7)(6.862,1)(6.861,2)(6.860,8)(6.859,11)(6.858,4)
(6.857,10)(6.856,7)(6.855,3)(6.854,13)(6.853,14)(6.852,4)(6.851,6)(6.850,16)(6.849,12)(6.848,9)(6.847,21)(6.846,19)(6.845,11)(6.844,6)(6.843,17)(6.842,14)(6.841,9)(6.840,20)(6.839,16)(6.838,10)(6.837,23)(6.836,17)(6.835,14)(6.834,13)(6.833,19)(6.832,21)(6.831,11)(6.830,16)
(6.8290,14)(6.8280,20)(6.8270,21)(6.8260,32)(6.8252,50)(6.8245,86)(6.8240,121)(6.8234,141)(6.8228,107)(6.8220,84)(6.8213,76)(6.8207,100)(6.8200,129)(6.8194,138)(6.8188,107)(6.8180,57)(6.8172,32)
(6.8162,19)(6.8150,7)(6.8140,-4)(6.8133,-14)(6.8125,7)(6.8119,21)(6.8110,39)(6.8100,61)(6.8090,89)(6.8082,107)(6.8076,114)(6.8070,93)(6.8062,68)(6.8054,57)(6.8046,79)(6.8040,107)(6.8032,126)
(6.8026,100)(6.8018,57)(6.8010,29)(6.8003,14)(6.7995,4)
(6.798,-8)(6.797,5)(6.796,6)(6.795,-9)(6.794,-12)(6.793,8)(6.792,4)(6.791,-13)(6.790,-5)(6.789,9)(6.788,10)(6.787,-3)(6.786,-15)(6.785,6)(6.784,2)(6.783,-8)(6.782,8)(6.781,11)(6.780,-10)(6.779,-6)(6.778,5)(6.777,1)(6.776,-3)(6.775,14)(6.774,12)(6.773,-4)(6.772,-8)(6.771,5)(6.770,0)(6.769,-9)(6.768,9)(6.767,10)(6.766,-6)(6.765,3)(6.764,14)(6.763,-5)(6.762,-2)(6.761,12)(6.760,7)(6.759,-1)
(6.758,-11)(6.757,6)(6.756,11)(6.755,-7)(6.754,3)(6.753,13)(6.752,-4)(6.751,9)(6.750,15)(6.749,-2)(6.748,1)(6.747,16)(6.746,8)(6.745,4)(6.744,-5)(6.743,11)(6.742,17)(6.741,0)(6.740,6)(6.739,19)(6.738,12)(6.737,8)(6.736,2)(6.735,15)(6.734,20)(6.733,22)(6.732,9)(6.731,5)(6.730,14)(6.729,18)(6.728,24)(6.727,13)(6.726,10)(6.725,26)(6.724,18)(6.723,20)(6.722,28)(6.721,12)(6.720,16)(6.719,25)
(6.718,22)(6.717,33)(6.716,30)(6.715,17)(6.714,19)(6.713,27)(6.712,26)(6.711,24)
(6.7100,21)(6.7090,27)(6.7080,30)(6.7072,36)(6.7064,43)(6.7056,61)(6.7049,93)(6.7042,129)(6.7035,164)(6.7028,207)(6.7022,246)(6.7017,266)(6.7012,229)(6.7006,171)(6.7001,136)(6.6997,124)
(6.6992,150)(6.6986,200)(6.6982,229)(6.6978,239)(6.6972,207)(6.6967,171)(6.6962,141)(6.6955,86)(6.6948,45)(6.6941,21)(6.6934,9)(6.6927,-7)(6.6920,-14)
(6.691,-15)(6.690,-30)(6.689,-40)(6.688,-12)(6.687,0)(6.686,-38)(6.685,-20)(6.684,5)(6.683,-33)(6.682,-22)(6.681,8)(6.680,-8)(6.679,-12)(6.678,12)(6.677,-26)(6.676,-28)(6.675,4)(6.674,-2)(6.673,-17)(6.672,-18)(6.671,-30)(6.670,10)(6.669,-5)(6.668,-35)(6.667,10)(6.666,-6)(6.665,-22)(6.664,8)(6.663,-38)(6.662,-25)(6.661,2)(6.660,-14)(6.659,-9)(6.658,14)(6.657,-18)(6.656,-20)(6.655,15)(6.654,-4)(6.653,-28)(6.652,6)
(6.651,-11)(6.650,-32)(6.649,-3)(6.648,-9)(6.647,-24)(6.646,11)(6.645,7)(6.644,-24)(6.643,-14)(6.642,2)(6.641,-31)(6.640,-16)(6.639,3)(6.638,9)(6.637,-20)(6.636,-30)(6.635,-8)(6.634,-5)(6.633,11)(6.632,13)(6.631,-36)(6.630,-19)(6.629,-6)(6.628,-1)(6.627,-16)(6.626,-27)(6.625,5)(6.624,7)(6.623,-25)(6.622,-12)(6.621,-2)(6.620,15)(6.619,12)(6.618,-22)(6.617,-19)(6.616,-3)(6.615,-29)(6.614,10)(6.613,6)(6.612,-34)
(6.611,-10)(6.610,0)(6.609,-23)(6.608,-15)(6.607,1)(6.606,12)(6.605,14)(6.604,-10)(6.603,-17)(6.602,-26)(6.601,-32)(6.600,8)(6.599,9)(6.598,-18)(6.597,-13)(6.596,4)(6.595,-4)(6.594,-8)(6.593,-27)(6.592,14)(6.591,7)(6.590,-20)(6.589,-15)(6.588,-6)
};
\node[anchor=base west, inner sep=0pt, text=tickred, font=\rulerfont\fontsize{3.05}{3.6}\selectfont] at ([yshift=-4.2pt]rel axis cs:0,0) {\scalebox{0.65}[1]{ppm}};
\end{axis}
% teal bar under the ruler
\fill[tealA] (4.1pt,3.43pt) rectangle (230pt,3.97pt);
\shade[left color=tealA, right color=tealB] (229.9pt,3.43pt) rectangle (319.3pt,3.97pt);
% panel label
\node[anchor=base west, inner sep=0pt, font=\labelfont\bfseries\fontsize{28.1}{30}\selectfont] at (16.2pt,225.1pt) {\scalebox{0.62}[1]{(c)}};
\end{tikzpicture}
\end{document}
